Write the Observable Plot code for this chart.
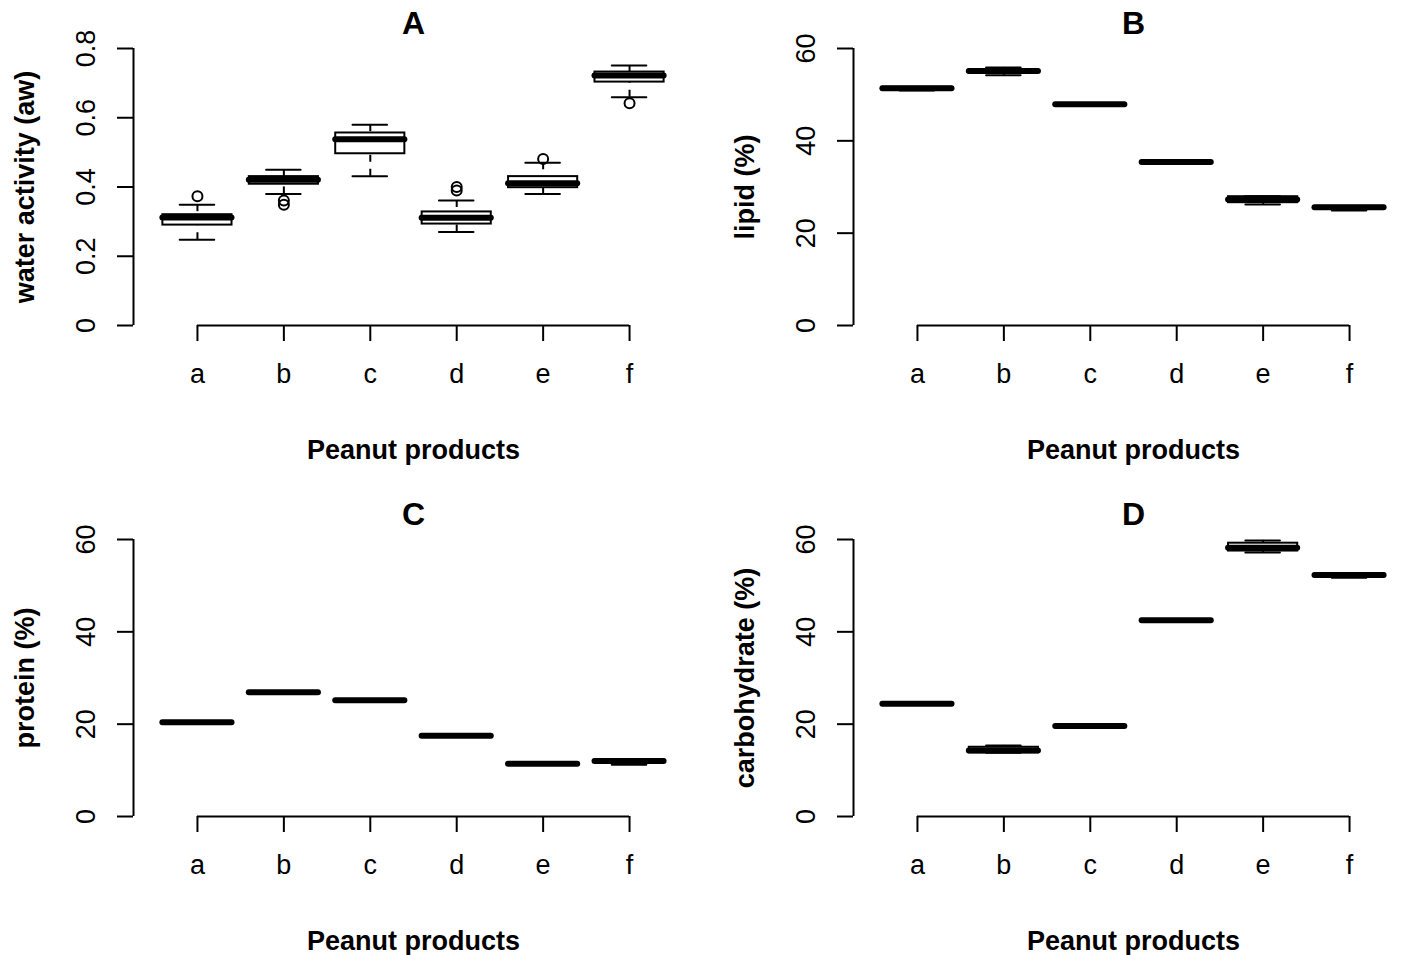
<!DOCTYPE html>
<html><head><meta charset="utf-8">
<script src="https://cdn.jsdelivr.net/npm/d3@7"></script>
<script src="https://cdn.jsdelivr.net/npm/@observablehq/plot@0.6"></script>
<style>
body{margin:0;background:#fff;}
#wrap{position:relative;width:1421px;height:955px;background:#fff;font-family:"Liberation Sans",Arial,sans-serif;}
.panel{position:absolute;}
</style></head><body><div id="wrap"></div>
<script>
const products = ["a","b","c","d","e","f"];
// each row: [lower whisker, Q1, median, Q3, upper whisker]
const waterActivity = [
  [0.248, 0.290, 0.312, 0.320, 0.349],
  [0.380, 0.408, 0.421, 0.430, 0.450],
  [0.431, 0.496, 0.538, 0.556, 0.580],
  [0.270, 0.293, 0.311, 0.328, 0.361],
  [0.380, 0.398, 0.411, 0.430, 0.470],
  [0.659, 0.703, 0.722, 0.732, 0.751]
];
const waterOutliers = [[0.373], [0.361, 0.349], [], [0.400, 0.390], [0.481], [0.642]];
const lipid = [
  [50.9, 51.2, 51.4, 51.6, 51.6],
  [54.2, 54.8, 55.1, 55.4, 55.9],
  [47.8, 47.85, 47.9, 47.95, 48.0],
  [35.3, 35.35, 35.4, 35.45, 35.5],
  [26.2, 26.6, 27.3, 27.9, 28.0],
  [24.9, 25.3, 25.6, 25.8, 25.9]
];
const protein = [
  [20.3, 20.35, 20.4, 20.45, 20.5],
  [26.8, 26.85, 26.9, 26.95, 27.0],
  [25.1, 25.15, 25.2, 25.25, 25.3],
  [17.4, 17.45, 17.5, 17.55, 17.6],
  [11.3, 11.35, 11.4, 11.45, 11.5],
  [11.2, 11.7, 12.0, 12.3, 12.4]
];
const carbohydrate = [
  [24.3, 24.35, 24.4, 24.45, 24.5],
  [13.8, 13.8, 14.3, 15.0, 15.4],
  [19.5, 19.55, 19.6, 19.65, 19.7],
  [42.4, 42.45, 42.5, 42.55, 42.6],
  [57.2, 57.5, 58.2, 59.2, 59.8],
  [51.7, 52.0, 52.3, 52.5, 52.5]
];
const awTicks = [0, 0.2, 0.4, 0.6, 0.8];
const awTickLabels = ["0", "0.2", "0.4", "0.6", "0.8"];
const pctTicks = [0, 20, 40, 60];
const pctTickLabels = ["0", "20", "40", "60"];
const panelTitles = ["A", "B", "C", "D"];
const yLabels = ["water activity (aw)", "lipid (%)", "protein (%)", "carbohydrate (%)"];
const xLabel = "Peanut products";

function panel(title, ylabel, stats, outliers, ticks, tickLabels) {
  const rows = stats.map((s, i) => ({x: i + 1, lo: s[0], q1: s[1], med: s[2], q3: s[3], hi: s[4]}));
  const outRows = outliers.flatMap((o, i) => o.map(v => ({x: i + 1, y: v})));
  const yMax = ticks[ticks.length - 1];
  const tickRows = ticks.map((t, i) => ({y: t, label: tickLabels[i]}));
  return Plot.plot({
    width: 700, height: 491,
    marginLeft: 133, marginRight: 7, marginTop: 48, marginBottom: 166,
    x: {domain: [0.26, 6.74]},
    y: {domain: [0, yMax]},
    style: {fontFamily: "'Liberation Sans', Arial, sans-serif", fontSize: "27px", color: "black", background: "white", overflow: "visible"},
    marks: [
      Plot.ruleX(rows, {x: "x", y1: "lo", y2: "q1", stroke: "black", strokeWidth: 2, strokeDasharray: "7,7"}),
      Plot.ruleX(rows, {x: "x", y1: "hi", y2: "q3", stroke: "black", strokeWidth: 2, strokeDasharray: "7,7"}),
      Plot.ruleY(rows, {y: "lo", x1: d => d.x - 0.2, x2: d => d.x + 0.2, stroke: "black", strokeWidth: 2, strokeLinecap: "round"}),
      Plot.ruleY(rows, {y: "hi", x1: d => d.x - 0.2, x2: d => d.x + 0.2, stroke: "black", strokeWidth: 2, strokeLinecap: "round"}),
      Plot.rect(rows, {x1: d => d.x - 0.4, x2: d => d.x + 0.4, y1: "q1", y2: "q3", fill: "white", stroke: "black", strokeWidth: 2}),
      Plot.ruleY(rows, {y: "med", x1: d => d.x - 0.4, x2: d => d.x + 0.4, stroke: "black", strokeWidth: 6, strokeLinecap: "round"}),
      Plot.dot(outRows, {x: "x", y: "y", r: 5, stroke: "black", strokeWidth: 2, fill: "none"}),
      Plot.ruleX([0.26], {y1: 0, y2: yMax, stroke: "black", strokeWidth: 2}),
      Plot.ruleY([0], {x1: 1, x2: 6, stroke: "black", strokeWidth: 2}),
      Plot.axisY({ticks: ticks, tickSize: 16, tickFormat: () => "", strokeWidth: 2, label: null}),
      Plot.text(tickRows, {y: "y", text: "label", frameAnchor: "left", dx: -47, rotate: -90, textAnchor: "middle", lineAnchor: "middle", fontSize: 27, fill: "black"}),
      Plot.axisX({ticks: [1, 2, 3, 4, 5, 6], tickFormat: d => products[d - 1], tickSize: 16, tickPadding: 22, fontSize: 27, strokeWidth: 2, label: null}),
      Plot.text([title], {frameAnchor: "top", dy: -15, lineAnchor: "bottom", fontSize: 32, fontWeight: "bold", fill: "black"}),
      Plot.text([xLabel], {frameAnchor: "bottom", dy: 133, lineAnchor: "bottom", fontSize: 27, fontWeight: "bold", fill: "black"}),
      Plot.text([ylabel], {frameAnchor: "left", dx: -108, rotate: -90, textAnchor: "middle", lineAnchor: "middle", fontSize: 27, fontWeight: "bold", fill: "black"})
    ]
  });
}

const wrap = document.getElementById("wrap");
const specs = [
  [waterActivity, waterOutliers, awTicks, awTickLabels, 0, 0],
  [lipid, products.map(() => []), pctTicks, pctTickLabels, 720, 0],
  [protein, products.map(() => []), pctTicks, pctTickLabels, 0, 491],
  [carbohydrate, products.map(() => []), pctTicks, pctTickLabels, 720, 491]
];
specs.forEach((s, i) => {
  const div = document.createElement("div");
  div.className = "panel";
  div.style.left = s[4] + "px";
  div.style.top = s[5] + "px";
  div.appendChild(panel(panelTitles[i], yLabels[i], s[0], s[1], s[2], s[3]));
  wrap.appendChild(div);
});
</script></body></html>
